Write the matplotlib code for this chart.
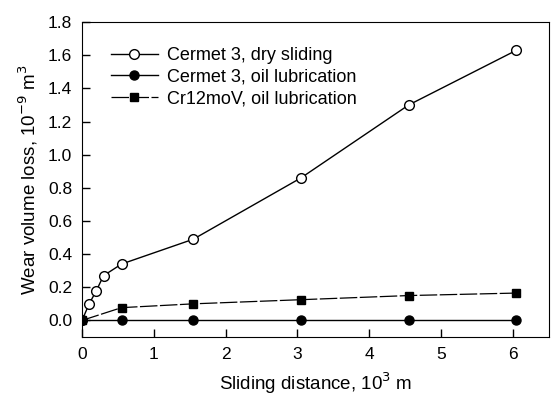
import matplotlib
matplotlib.use('Agg')
import matplotlib.pyplot as plt
import numpy as np

plt.rcParams['font.family'] = ['Liberation Sans', 'DejaVu Sans']

# Cermet 3, dry sliding
x_dry = [0, 0.1, 0.2, 0.3, 0.55, 1.55, 3.05, 4.55, 6.05]
y_dry = [0.0, 0.10, 0.18, 0.27, 0.34, 0.49, 0.86, 1.30, 1.63]

# Cermet 3, oil lubrication
x_oil = [0, 0.55, 1.55, 3.05, 4.55, 6.05]
y_oil = [0.0, 0.0, 0.0, 0.0, 0.0, 0.0]

# Cr12moV, oil lubrication
x_cr = [0, 0.55, 1.55, 3.05, 4.55, 6.05]
y_cr = [0.0, 0.077, 0.10, 0.125, 0.15, 0.165]

fig = plt.figure(figsize=(5.56, 3.94), dpi=100)
ax = fig.add_axes([0.1475, 0.1447, 0.8395, 0.7993])

ax.plot(x_dry, y_dry, '-o', color='black', lw=1.0, ms=7, mfc='white', mec='black', mew=1.0,
        label='Cermet 3, dry sliding')
ax.plot(x_oil, y_oil, '-o', color='black', lw=1.0, ms=6.5, mfc='black',
        label='Cermet 3, oil lubrication')
ax.plot(x_cr, y_cr, '-s', color='black', lw=0.9, ms=5.5, mfc='black', dashes=(14, 2),
        label='Cr12moV, oil lubrication')

ax.set_xlim(0, 6.5)
ax.set_ylim(-0.1, 1.8)
ax.set_xticks(range(0, 7))
ax.set_yticks(np.arange(0, 1.81, 0.2))
ax.set_yticklabels(['%.1f' % v for v in np.arange(0, 1.81, 0.2)])
ax.tick_params(direction='in', length=6, width=1, labelsize=12.5, pad=7)

ax.set_xlabel('Sliding distance, 10$^3$ m', fontsize=13.5, labelpad=6)
ax.set_ylabel('Wear volume loss, 10$^{-9}$ m$^3$', fontsize=13.5, labelpad=6)

leg = ax.legend(loc='upper left', bbox_to_anchor=(0.038, 0.955), frameon=False, fontsize=13,
                handlelength=2.6, labelspacing=0.25, handletextpad=0.5, borderaxespad=0.2)

fig.savefig('out.png', dpi=100)
